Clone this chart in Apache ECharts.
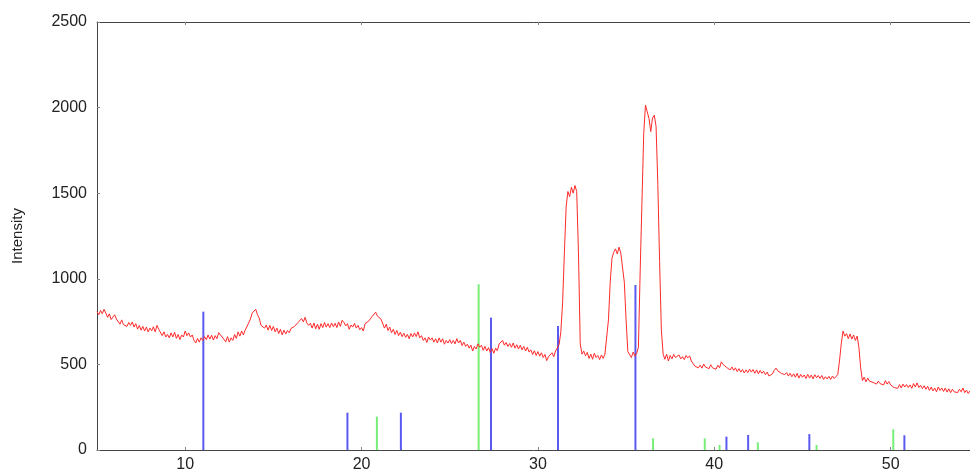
<!DOCTYPE html>
<html lang="en">
<head>
    <meta charset="UTF-8">
    <title>index</title>
    <script src="https://cdn.jsdelivr.net/npm/echarts@6/dist/echarts.min.js"></script>
    <style>
        html, body { margin: 0; padding: 0; background: #fff; }
        #chart { width: 970px; height: 473px; }
    </style>
</head>
<body>
<div id="chart"></div>
<script>
    // scan: 2theta from 5.0 to 54.5, step 0.1 (one row per degree)
    var scanStart = 5.0;
    var scanStep = 0.1;
    var intensity = [
        808, 790, 815, 796, 822, 800, 775, 795, 762, 770,
        790, 765, 755, 735, 760, 732, 740, 722, 745, 728,
        748, 718, 738, 706, 728, 700, 722, 695, 718, 690,
        712, 696, 720, 690, 728, 705, 712, 668, 690, 660,
        675, 655, 684, 660, 688, 652, 675, 645, 672, 660,
        695, 668, 684, 660, 672, 640, 625, 652, 630, 655,
        640, 662, 645, 672, 648, 670, 642, 668, 650, 685,
        695, 660, 655, 632, 662, 630, 655, 640, 675, 652,
        690, 665, 695, 672, 700, 705, 742, 765, 800, 808,
        822, 790, 770, 728, 735, 712, 730, 700, 728, 698,
        722, 690, 712, 680, 705, 672, 700, 678, 698, 685,
        710, 700, 722, 712, 745, 738, 768, 748, 775, 742,
        728, 740, 712, 742, 708, 735, 705, 738, 715, 745,
        718, 738, 715, 742, 720, 740, 715, 748, 722, 758,
        745, 725, 738, 705, 730, 718, 740, 712, 728, 702,
        715, 695, 738, 730, 752, 748, 780, 770, 805, 782,
        790, 765, 760, 712, 735, 698, 718, 685, 705, 675,
        698, 668, 688, 662, 682, 658, 676, 650, 680, 660,
        684, 662, 690, 655, 668, 640, 655, 628, 660, 642,
        655, 630, 650, 625, 655, 630, 650, 618, 640, 625,
        645, 622, 640, 620, 650, 625, 640, 610, 630, 605,
        618, 595, 612, 578, 605, 590, 620, 600, 612, 582,
        605, 578, 598, 570, 592, 565, 595, 580, 620, 612,
        640, 612, 628, 605, 622, 600, 625, 595, 615, 590,
        612, 585, 605, 578, 600, 572, 585, 558, 580, 552,
        575, 548, 568, 540, 558, 522, 545, 535, 568, 545,
        578, 584, 615, 690, 860, 1150, 1420, 1510, 1480, 1535,
        1500, 1545, 1510, 1150, 620, 560, 578, 550, 570, 535,
        560, 530, 565, 540, 552, 528, 555, 535, 560, 570,
        760, 980, 1120, 1155, 1175, 1145, 1185, 1150, 1160, 980,
        760, 575, 565, 540, 572, 548, 565, 600, 1050, 1450,
        1850, 2015, 1975, 1935, 1860, 1940, 1955, 1890, 1550, 1100,
        700, 560, 530, 560, 520, 552, 532, 558, 540, 535,
        555, 532, 545, 528, 552, 538, 550, 520, 505, 490,
        500, 480, 495, 478, 502, 485, 492, 475, 498, 480,
        490, 472, 495, 480, 515, 500, 505, 482, 488, 468,
        485, 465, 480, 458, 475, 455, 470, 450, 468, 452,
        472, 455, 470, 448, 468, 445, 465, 448, 460, 440,
        455, 432, 425, 445, 465, 478, 462, 465, 448, 458,
        440, 452, 432, 448, 428, 445, 425, 448, 420, 442,
        425, 438, 418, 442, 420, 438, 415, 440, 422, 435,
        418, 435, 412, 428, 415, 430, 412, 432, 418, 425,
        440, 520, 620, 695, 665, 680, 650, 678, 648, 672,
        640, 665, 600, 480, 405, 425, 398, 420, 402, 412,
        395, 405, 385, 402, 388, 398, 380, 405, 385, 400,
        380, 388, 365, 372, 360, 382, 362, 385, 368, 382,
        365, 380, 360, 388, 368, 392, 365, 378, 358, 375,
        355, 372, 348, 368, 345, 362, 340, 368, 348, 362,
        342, 362, 338, 358, 335, 355, 340, 350, 335, 355,
        340, 362, 335, 350, 330, 345
    ];

    // reference pattern sticks
    var bluePos = [11.03, 19.2, 22.23, 27.34, 31.14, 35.53, 40.69, 41.92, 45.39, 50.78];
    var blueH   = [808, 218, 218, 773, 724, 964, 78, 88, 93, 86];
    var greenPos = [20.87, 26.64, 36.53, 39.46, 40.3, 42.47, 45.8, 50.15];
    var greenH   = [195, 968, 68, 68, 29, 45, 29, 121];

    var xTicks = [10, 20, 30, 40, 50];

    var scan = intensity.map(function (v, i) {
        return [+(scanStart + i * scanStep).toFixed(2), v];
    });
    function sticks(pos, h) {
        return pos.map(function (p, i) { return [p, h[i]]; });
    }
    function stickItem(color) {
        return function (params, api) {
            var p0 = api.coord([api.value(0), 0]);
            var p1 = api.coord([api.value(0), api.value(1)]);
            return {
                type: 'line',
                shape: { x1: p0[0], y1: p0[1], x2: p1[0], y2: p1[1] },
                style: { stroke: color, lineWidth: 2 }
            };
        };
    }

    var axisColor = '#444';
    var font = 'Liberation Sans, Arial, sans-serif';

    var chart = echarts.init(document.getElementById('chart'));
    chart.setOption({
        animation: false,
        grid: { left: 97, top: 22, right: 0, bottom: 23 },
        xAxis: [{
            type: 'value',
            min: 5,
            max: 54.5,
            splitLine: { show: false },
            axisLine: { lineStyle: { color: axisColor, width: 1 } },
            axisTick: { inside: true, length: 3, customValues: xTicks, lineStyle: { color: '#888' } },
            axisLabel: { customValues: xTicks, color: '#222', fontSize: 16, fontFamily: font, margin: 7 }
        }, {
            type: 'value',
            position: 'top',
            min: 5,
            max: 54.5,
            splitLine: { show: false },
            axisLine: { show: true, lineStyle: { color: axisColor, width: 1 } },
            axisTick: { inside: true, length: 3, customValues: xTicks, lineStyle: { color: '#888' } },
            axisLabel: { show: false }
        }],
        yAxis: {
            type: 'value',
            min: 0,
            max: 2500,
            interval: 500,
            name: 'Intensity',
            nameLocation: 'middle',
            nameGap: 72,
            nameRotate: 90,
            nameTextStyle: { color: '#222', fontSize: 15, fontFamily: font },
            splitLine: { show: false },
            axisLine: { show: true, lineStyle: { color: axisColor, width: 1 } },
            axisTick: { inside: true, length: 3, lineStyle: { color: '#888' } },
            axisLabel: {
                color: '#222', fontSize: 16, fontFamily: font, margin: 10,
                formatter: function (v) { return String(v); }
            }
        },
        series: [{
            type: 'custom',
            renderItem: stickItem('#5a5af0'),
            data: sticks(bluePos, blueH),
            z: 1
        }, {
            type: 'custom',
            renderItem: stickItem('#78ee78'),
            data: sticks(greenPos, greenH),
            z: 1
        }, {
            type: 'line',
            data: scan,
            showSymbol: false,
            lineStyle: { color: '#ff2a2a', width: 1 },
            z: 3
        }]
    });
</script>
</body>
</html>
